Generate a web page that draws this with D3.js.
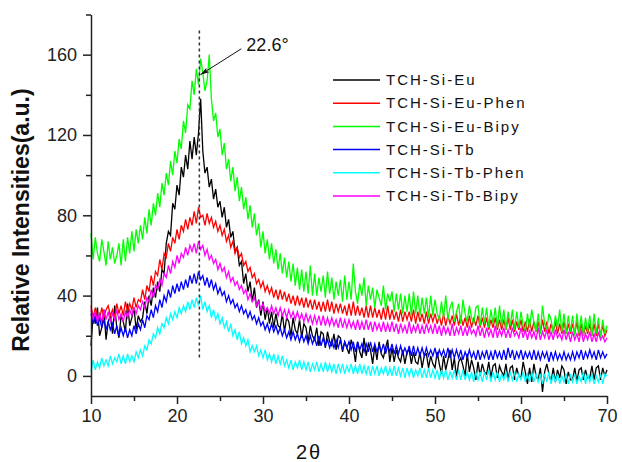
<!DOCTYPE html>
<html>
<head>
<meta charset="utf-8">
<script src="https://cdn.jsdelivr.net/npm/d3@7"></script>
<style>
  body { margin: 0; background: #fff; }
  text { font-family: Arial, "Liberation Sans", sans-serif; }
</style>
</head>
<body>
<svg id="chart" width="622" height="462"></svg>
<script>
// ---------------- DATA ----------------
// 2-theta sampling grid: start and step (degrees)
const thetaStart = 10;
const thetaStep = 0.25;

const tchSiEu = [
  15,31,26,34, 20,24,33,18, 27,30,21,35, 24,19,30,27, 22,36,25,29,
  34,23,30,27, 29,37,31,40, 35,44,39,47, 42,53,51,66, 72,70,86,83,
  95,90,104,99, 110,103,117,108, 119,110,121,138, 112,101,104,94, 98,88,93,84,
  87,79,84,74, 78,69,72,62, 64,55,57,46, 51,42,47,37, 44,34,38,30,
  37,28,34,26, 32,24,31,25, 24,31,22,29, 27,20,29,23, 21,28,19,26,
  24,17,25,20, 18,24,15,22, 21,14,22,17, 15,21,13,20, 19,12,17,14,
  11,18,14,7, 17,12,9,19, 10,16,13,6, 15,8,17,11, 9,14,18,7,
  14,7,13,9, 7,13,6,12, 13,6,12,7, 6,12,4,10, 11,4,10,6,
  4,12,6,1, 10,3,8,13, 3,9,-1,7, 9,5,0,11, 2,8,4,-2,
  7,0,6,2, 1,7,-1,5, 6,-1,5,2, 0,6,-2,4, 5,-2,4,0,
  -1,7,2,-4, 4,-3,6,0, -2,4,-8,2, 6,1,-3,4, -3,3,-1,5,
  3,-4,2,-2, -2,4,-3,3, 4,-2,3,-1, -1,5,-2,4, 5,-2,4,0,
  3
];

const tchSiEuPhen = [
  35,29,34,30, 28,34,29,33, 35,30,33,29, 36,31,35,30, 37,32,36,33,
  39,34,38,37, 43,38,45,42, 50,45,52,50, 58,53,61,59, 66,62,69,66,
  73,68,75,72, 78,73,79,75, 82,76,84,79, 80,75,81,76, 79,74,77,72,
  75,70,73,67, 70,64,67,61, 64,59,61,55, 57,52,54,49, 51,46,48,44,
  47,42,45,41, 44,39,43,38, 43,38,42,37, 41,36,40,35, 40,35,39,34,
  39,34,38,33, 38,33,37,32, 37,32,38,32, 37,31,36,32, 36,31,35,30,
  36,30,37,30, 35,30,34,29, 35,29,35,29, 34,29,33,28, 34,28,35,28,
  33,28,32,27, 33,27,32,28, 32,27,33,26, 32,27,31,26, 32,26,31,27,
  31,26,30,25, 31,25,30,26, 30,25,31,25, 30,25,29,24, 30,24,29,25,
  30,24,29,24, 29,23,28,24, 29,23,28,23, 28,23,29,23, 28,22,27,23,
  28,22,27,22, 28,22,27,22, 27,21,28,22, 27,21,26,22, 27,21,26,21,
  27,21,26,21, 26,21,27,20, 26,20,25,21, 26,20,26,20, 26,20,25,20,
  23
];

const tchSiEuBipy = [
  71,58,69,61, 57,68,62,55, 67,58,64,56, 60,66,55,68, 57,69,61,72,
  62,73,66,75, 68,79,71,83, 75,86,80,91, 84,96,90,101, 95,107,100,112,
  106,118,113,127, 121,135,133,147, 140,153,145,158, 151,142,147,160, 138,127,131,119,
  123,110,116,103, 108,97,104,92, 99,87,94,83, 89,78,85,74, 81,70,76,64,
  72,61,68,58, 66,56,63,53, 61,51,59,49, 57,47,56,45, 54,43,53,42,
  52,41,55,40, 51,40,49,42, 50,39,52,41, 49,38,47,40, 48,37,50,38,
  47,38,56,42, 36,46,40,49, 35,45,38,44, 34,43,39,35, 45,33,41,37,
  42,32,41,33, 41,31,40,32, 41,30,42,31, 40,30,39,31, 39,29,40,30,
  38,31,28,37, 29,40,28,34, 37,27,32,36, 26,38,31,27, 35,29,26,34,
  35,25,34,26, 34,24,33,26, 34,24,35,25, 33,23,32,25, 33,23,32,24,
  32,25,22,31, 24,33,27,22, 31,21,35,26, 23,31,28,21, 30,24,33,22,
  31,21,30,22, 30,20,31,21, 30,20,29,22, 30,20,31,21, 29,19,28,21,
  25
];

const tchSiTb = [
  31,26,30,25, 29,24,28,23, 27,23,26,21, 25,20,24,20, 24,19,23,20,
  25,21,26,23, 28,24,30,28, 33,29,35,32, 38,34,40,37, 43,39,45,41,
  46,42,47,43, 48,44,50,46, 51,46,52,48, 50,45,49,44, 48,43,46,41,
  44,40,42,37, 40,36,38,34, 36,32,35,31, 33,29,32,28, 30,26,29,25,
  27,23,26,22, 26,22,25,21, 24,20,23,19, 22,18,22,18, 21,17,21,17,
  20,16,20,16, 19,15,20,15, 19,15,18,14, 18,14,18,14, 18,13,17,14,
  17,13,17,12, 17,13,16,12, 16,12,17,12, 16,12,15,12, 16,11,15,12,
  16,11,15,11, 15,11,14,11, 15,10,15,10, 14,10,14,10, 14,10,13,10,
  14,9,13,10, 13,9,14,9, 13,9,13,9, 13,8,12,9, 13,9,12,8,
  13,8,12,9, 13,8,12,8, 13,9,12,8, 13,8,14,9, 13,8,12,9,
  13,8,12,9, 12,8,13,8, 12,8,12,9, 12,7,12,8, 12,8,11,8,
  12,8,11,8, 12,8,12,9, 13,8,12,9, 13,9,12,8, 13,9,12,9,
  11
];

const tchSiTbPhen = [
  2,8,3,7, 4,9,5,8, 5,10,6,9, 7,11,6,10, 6,11,7,10,
  7,12,9,13, 10,15,13,18, 16,21,19,24, 21,26,24,29, 26,31,28,32,
  29,34,31,35, 32,37,33,38, 34,39,35,40, 33,37,32,35, 29,33,28,31,
  26,29,24,27, 22,26,20,23, 18,22,16,19, 15,18,12,15, 12,15,10,13,
  9,13,8,11, 7,11,6,10, 6,10,5,8, 4,8,3,7, 4,8,3,7,
  3,7,2,6, 3,7,2,6, 2,7,2,6, 2,6,1,6, 2,6,1,5,
  2,6,1,5, 1,6,1,5, 1,5,0,5, 1,5,0,4, 1,5,0,4,
  0,5,0,4, 0,4,-1,4, 0,4,-1,3, 0,4,-1,3, -1,4,-1,3,
  -1,3,-2,3, -1,3,-2,2, -1,3,-2,3, -2,3,-2,2, -2,2,-3,2,
  -2,2,-3,2, -2,3,-3,2, -2,2,-3,1, -2,2,-3,2, -2,2,-3,1,
  -2,2,-3,1, -3,2,-3,1, -3,1,-4,1, -3,2,-4,1, -3,1,-4,0,
  -3,1,-4,1, -3,1,-4,0, -3,2,-4,1, -3,1,-4,0, -3,1,-4,1,
  0
];

const tchSiTbBipy = [
  33,28,32,27, 31,27,33,28, 32,27,31,28, 33,28,31,27, 32,29,33,30,
  34,31,35,33, 37,34,39,37, 43,39,45,43, 48,45,51,49, 55,51,57,54,
  60,56,61,59, 64,60,65,62, 66,61,67,63, 65,60,63,58, 60,56,58,53,
  56,52,54,49, 52,47,49,45, 47,43,45,41, 43,38,41,37, 39,35,37,33,
  36,32,34,31, 35,31,34,30, 34,30,33,29, 33,29,32,28, 32,28,31,27,
  31,27,30,26, 30,26,30,25, 30,25,29,25, 29,25,28,24, 29,24,28,24,
  28,24,27,23, 28,23,27,23, 28,23,27,22, 27,23,26,22, 27,22,26,22,
  27,22,26,21, 26,22,25,21, 27,21,25,22, 26,21,25,21, 26,22,25,21,
  26,21,25,20, 25,21,24,20, 26,20,24,21, 25,20,24,20, 25,21,23,20,
  25,20,24,19, 24,20,23,19, 25,19,23,20, 24,19,23,19, 24,20,22,19,
  24,19,23,18, 23,19,22,18, 24,18,22,19, 23,18,22,18, 23,19,21,18,
  23,18,22,17, 22,18,21,17, 23,17,21,18, 22,17,21,17, 22,18,20,17,
  19
];

const seriesNames = ["TCH-Si-Eu", "TCH-Si-Eu-Phen", "TCH-Si-Eu-Bipy", "TCH-Si-Tb", "TCH-Si-Tb-Phen", "TCH-Si-Tb-Bipy"];
const seriesValues = [tchSiEu, tchSiEuPhen, tchSiEuBipy, tchSiTb, tchSiTbPhen, tchSiTbBipy];
const seriesColors = ["#000000", "#ff0000", "#00ff00", "#0000ff", "#00ffff", "#ff00ff"];

const xTicks = [10, 20, 30, 40, 50, 60, 70];
const xMinorTicks = [15, 25, 35, 45, 55, 65];
const yTicks = [0, 40, 80, 120, 160];
const yMinorTicks = [20, 60, 100, 140, 180];

const peakTheta = 22.6;
const peakLabel = "22.6°";
const xTitle = "2θ";
const yTitle = "Relative Intensities(a.u.)";

// ---------------- CHART ----------------
const svg = d3.select("#chart");
const x = d3.scaleLinear().domain([10, 70]).range([91, 607]);
const y = d3.scaleLinear().domain([-10, 180]).range([396, 14.5]);
const axisColor = "#222";

// series lines
const line = d3.line()
  .x((d, i) => x(thetaStart + i * thetaStep))
  .y(d => y(d));

svg.append("g").selectAll("path")
  .data(seriesValues)
  .join("path")
  .attr("d", d => line(d))
  .attr("fill", "none")
  .attr("stroke", (d, i) => seriesColors[i])
  .attr("stroke-width", 1.3)
  .attr("stroke-linejoin", "miter");

// dashed peak marker
svg.append("line")
  .attr("x1", x(peakTheta)).attr("x2", x(peakTheta))
  .attr("y1", y(172)).attr("y2", y(9))
  .attr("stroke", "#333")
  .attr("stroke-width", 1.5)
  .attr("stroke-dasharray", "3,3");

// arrow annotation
const defs = svg.append("defs");
defs.append("marker")
  .attr("id", "arrow")
  .attr("viewBox", "0 0 10 6")
  .attr("refX", 10).attr("refY", 3)
  .attr("markerWidth", 9).attr("markerHeight", 5.5)
  .attr("markerUnits", "userSpaceOnUse")
  .attr("orient", "auto")
  .append("path")
  .attr("d", "M0,0L10,3L0,6L2.5,3Z")
  .attr("fill", "#111");

const tipX = x(peakTheta) + 1, tipY = y(150);
const tailX = tipX + 41, tailY = tipY - 26;
svg.append("line")
  .attr("x1", tailX).attr("y1", tailY)
  .attr("x2", tipX).attr("y2", tipY)
  .attr("stroke", "#111")
  .attr("stroke-width", 1)
  .attr("marker-end", "url(#arrow)");

svg.append("text")
  .attr("x", tailX + 5).attr("y", tailY + 2)
  .attr("font-size", 18)
  .attr("fill", "#111")
  .text(peakLabel);

// axes
svg.append("g")
  .attr("transform", `translate(0,${y(-10)})`)
  .call(d3.axisBottom(x).tickValues(xTicks).tickSize(8).tickSizeOuter(0).tickPadding(5).tickFormat(d3.format("d")));
svg.append("g")
  .attr("transform", `translate(0,${y(-10)})`)
  .call(d3.axisBottom(x).tickValues(xMinorTicks).tickSize(5).tickFormat(""))
  .call(g => g.select(".domain").remove());

svg.append("g")
  .attr("transform", `translate(${x(10)},0)`)
  .call(d3.axisLeft(y).tickValues(yTicks).tickSize(8).tickSizeOuter(0).tickPadding(6).tickFormat(d3.format("d")));
svg.append("g")
  .attr("transform", `translate(${x(10)},0)`)
  .call(d3.axisLeft(y).tickValues(yMinorTicks).tickSize(5).tickFormat(""))
  .call(g => g.select(".domain").remove());

svg.selectAll(".domain, .tick line")
  .attr("stroke", axisColor)
  .attr("stroke-width", 1.5);
svg.selectAll(".tick text")
  .attr("font-size", 18)
  .attr("font-family", "Arial, 'Liberation Sans', sans-serif")
  .attr("fill", "#222");

// axis titles
svg.append("text")
  .attr("x", 309).attr("y", 459)
  .attr("text-anchor", "middle")
  .attr("font-size", 20)
  .attr("letter-spacing", 2)
  .attr("fill", "#111")
  .text(xTitle);

svg.append("text")
  .attr("transform", "translate(28.5,220) rotate(-90)")
  .attr("text-anchor", "middle")
  .attr("font-size", 23)
  .attr("font-weight", "bold")
  .attr("fill", "#111")
  .text(yTitle);

// legend
const legend = svg.append("g");
seriesNames.forEach((name, i) => {
  const ly = 80 + i * 23.2;
  legend.append("line")
    .attr("x1", 333).attr("x2", 380)
    .attr("y1", ly).attr("y2", ly)
    .attr("stroke", seriesColors[i])
    .attr("stroke-width", 1.5);
  legend.append("text")
    .attr("x", 386).attr("y", ly)
    .attr("dy", "0.35em")
    .attr("font-size", 15)
    .attr("letter-spacing", 2)
    .attr("fill", "#111")
    .text(name);
});
</script>
</body>
</html>
